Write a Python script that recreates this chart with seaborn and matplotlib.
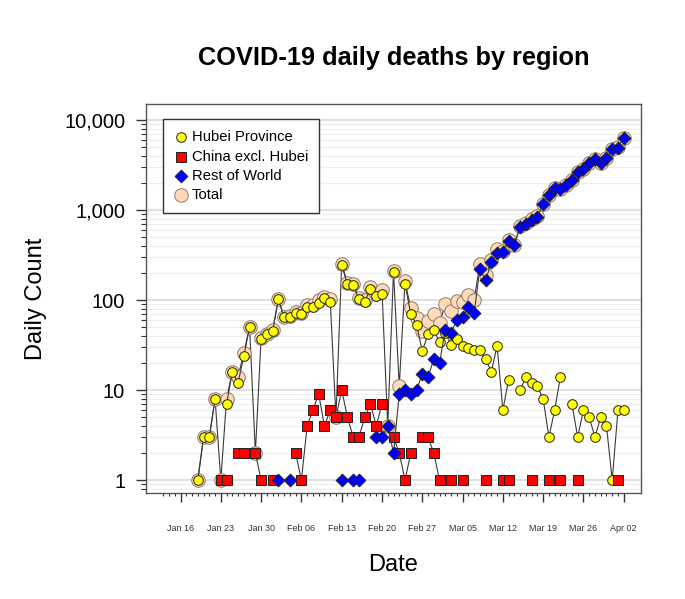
import numpy as np
import pandas as pd
import matplotlib
matplotlib.use("Agg")
import matplotlib.pyplot as plt
import matplotlib.dates as mdates
from matplotlib.ticker import FuncFormatter, LogLocator, NullFormatter, FixedLocator
import seaborn as sns

# Daily deaths, Jan 19 - Apr 02 2020 (None = no deaths reported that day)
dates = pd.date_range("2020-01-19", "2020-04-02", freq="D")

hubei = [
    1, 3, 3, 8, None, 7, 16, 12, 24, 50, None, 37, 42,
    45, 102, 64, 65, 71, 70, 83, 83, 92, 104, 96, None, 242, 150, 145, 102, 96,
    134, 110, 118, None, 204, None, 150, 70, 53, 27, 42, 46,
    34, 43, 32, 37, 31, 29, 28, 28, 22, 16, 31, 6, 13, None, 10, 14, 12, 11, 8,
    3, 6, 14, None, 7, 3, 6, 5, 3, 5, 4, 1,
    6, 6,
]
china = [
    None, None, None, None, 1, 1, None, 2, 2, None, 2, 1, None,
    1, None, None, None, 2, 1, 4, 6, 9, 4, 6, 5, 10, 5, 3, 3, 5,
    7, 4, 7, None, 3, 2, 1, 2, None, 3, 3, 2,
    1, None, 1, None, 1, None, None, None, 1, None, None, 1, 1, None, None, None, 1,
    None, None, 1, None, 1, None, None, 1, None, None, None, None, None, None,
    1, None,
]
rest_of_world = [
    None, None, None, None, None, None, None, None, None, None, None, None, None,
    None, 1, None, 1, None, None, None, None, None, None, None, None, 1, None, 1, 1, None,
    None, 3, 3, 4, 2, 9, 10, 9, 10, 15, 14, 22,
    20, 47, 43, 60, 64, 84, 71, 223, 165, 262, 335, 344, 452, 408, 653, 699, 774,
    843, 1166, 1468, 1741, 1698, 1896, 2154, 2666, 2832, 3305, 3658, 3305, 3753, 4725,
    4930, 6355,
]
total = [
    1, 3, 3, 8, 1, 8, 16, 14, 26, 50, 2, 38, 42,
    46, 103, 64, 66, 73, 71, 87, 89, 101, 108, 102, 5, 253, 155, 149, 106, 101,
    141, 117, 128, 4, 209, 11, 161, 81, 63, 45, 59, 70,
    55, 90, 76, 97, 96, 113, 99, 251, 188, 278, 366, 351, 466, 408, 663, 713, 787,
    854, 1174, 1472, 1747, 1713, 1896, 2161, 2670, 2838, 3310, 3661, 3310, 3757, 4726,
    4937, 6361,
]

df = pd.DataFrame({
    "date": dates,
    "Total": np.array(total, dtype=float),
    "Hubei Province": np.array(hubei, dtype=float),
    "China excl. Hubei": np.array(china, dtype=float),
    "Rest of World": np.array(rest_of_world, dtype=float),
})
long_df = df.melt(id_vars="date", var_name="region", value_name="deaths")

# drawing order: Total at the back
styles = {
    "Total": dict(marker="o", s=95, color="#FFDAB9", edgecolor="#8a7a6a"),
    "Hubei Province": dict(marker="o", s=48, color="#FFFF00", edgecolor="#222222"),
    "China excl. Hubei": dict(marker="s", s=44, color="#FF0000", edgecolor="#222222"),
    "Rest of World": dict(marker="D", s=42, color="#0000FF", edgecolor="#222222"),
}

sns.set_theme(style="ticks")
plt.rcParams["font.family"] = ["Liberation Sans", "DejaVu Sans"]
plt.rcParams["text.color"] = "black"
plt.rcParams["axes.labelcolor"] = "black"

fig = plt.figure(figsize=(6.85, 5.99), dpi=100)
ax = fig.add_axes([146 / 685, 1 - 493 / 599, (641 - 146) / 685, (493 - 104) / 599])

z = 2
for name, st in styles.items():
    sub = long_df[long_df["region"] == name]
    ax.plot(sub["date"], sub["deaths"], color="#3a3a3a", lw=0.8, zorder=z)
    sns.scatterplot(data=sub, x="date", y="deaths", marker=st["marker"], s=st["s"],
                    color=st["color"], edgecolor=st["edgecolor"], linewidth=0.7,
                    label=name, zorder=z + 1, ax=ax)
    z += 2

ax.set_yscale("log")
ax.set_ylim(0.72, 15000)
ax.set_xlim(pd.Timestamp("2020-01-10"), pd.Timestamp("2020-04-05"))

ax.yaxis.set_major_locator(LogLocator(base=10))
ax.yaxis.set_major_formatter(FuncFormatter(lambda v, p: f"{v:,.0f}"))
ax.yaxis.set_minor_locator(LogLocator(base=10, subs=range(2, 10)))
ax.yaxis.set_minor_formatter(NullFormatter())

ax.xaxis.set_major_locator(mdates.WeekdayLocator(byweekday=mdates.TH))
ax.xaxis.set_major_formatter(mdates.DateFormatter("%b %d"))
ax.xaxis.set_minor_locator(FixedLocator(mdates.date2num(pd.date_range("2020-01-13", "2020-04-02"))))

ax.yaxis.grid(True, which="major", color="#dddddd", lw=1.3)
ax.yaxis.grid(True, which="minor", color="#eeeeee", lw=0.8)
ax.xaxis.grid(False, which="both")
ax.set_axisbelow(True)

ax.tick_params(axis="x", which="major", length=6.5, width=1, color="#333333",
               labelsize=6.5, labelcolor="#333333", pad=16)
ax.tick_params(axis="x", which="minor", length=2.5, width=0.8, color="#333333")
ax.tick_params(axis="y", which="major", length=7, width=1, color="#333333",
               labelsize=14.5, labelcolor="black", pad=8)
ax.tick_params(axis="y", which="minor", length=3.6, width=0.8, color="#333333")

for sp in ax.spines.values():
    sp.set_visible(True)
    sp.set_color("#555555")
    sp.set_linewidth(1)

ax.set_xlabel("Date", fontsize=17, labelpad=15)
ax.set_ylabel("Daily Count", fontsize=17, labelpad=12)
ax.set_title("COVID-19 daily deaths by region", fontsize=18.3, fontweight="bold",
             color="black", pad=28)

h, l = ax.get_legend_handles_labels()
order = ["Hubei Province", "China excl. Hubei", "Rest of World", "Total"]
h_map = dict(zip(l, h))
leg = ax.legend([h_map[k] for k in order], order, loc="upper left",
                bbox_to_anchor=(0.034, 0.961), borderaxespad=0, fontsize=10.6,
                frameon=True, fancybox=False, framealpha=1, edgecolor="#333333",
                handletextpad=0.2, borderpad=0.75, labelspacing=0.36, handlelength=1.0)
leg.get_frame().set_linewidth(1)

fig.savefig("out.png", dpi=100)
